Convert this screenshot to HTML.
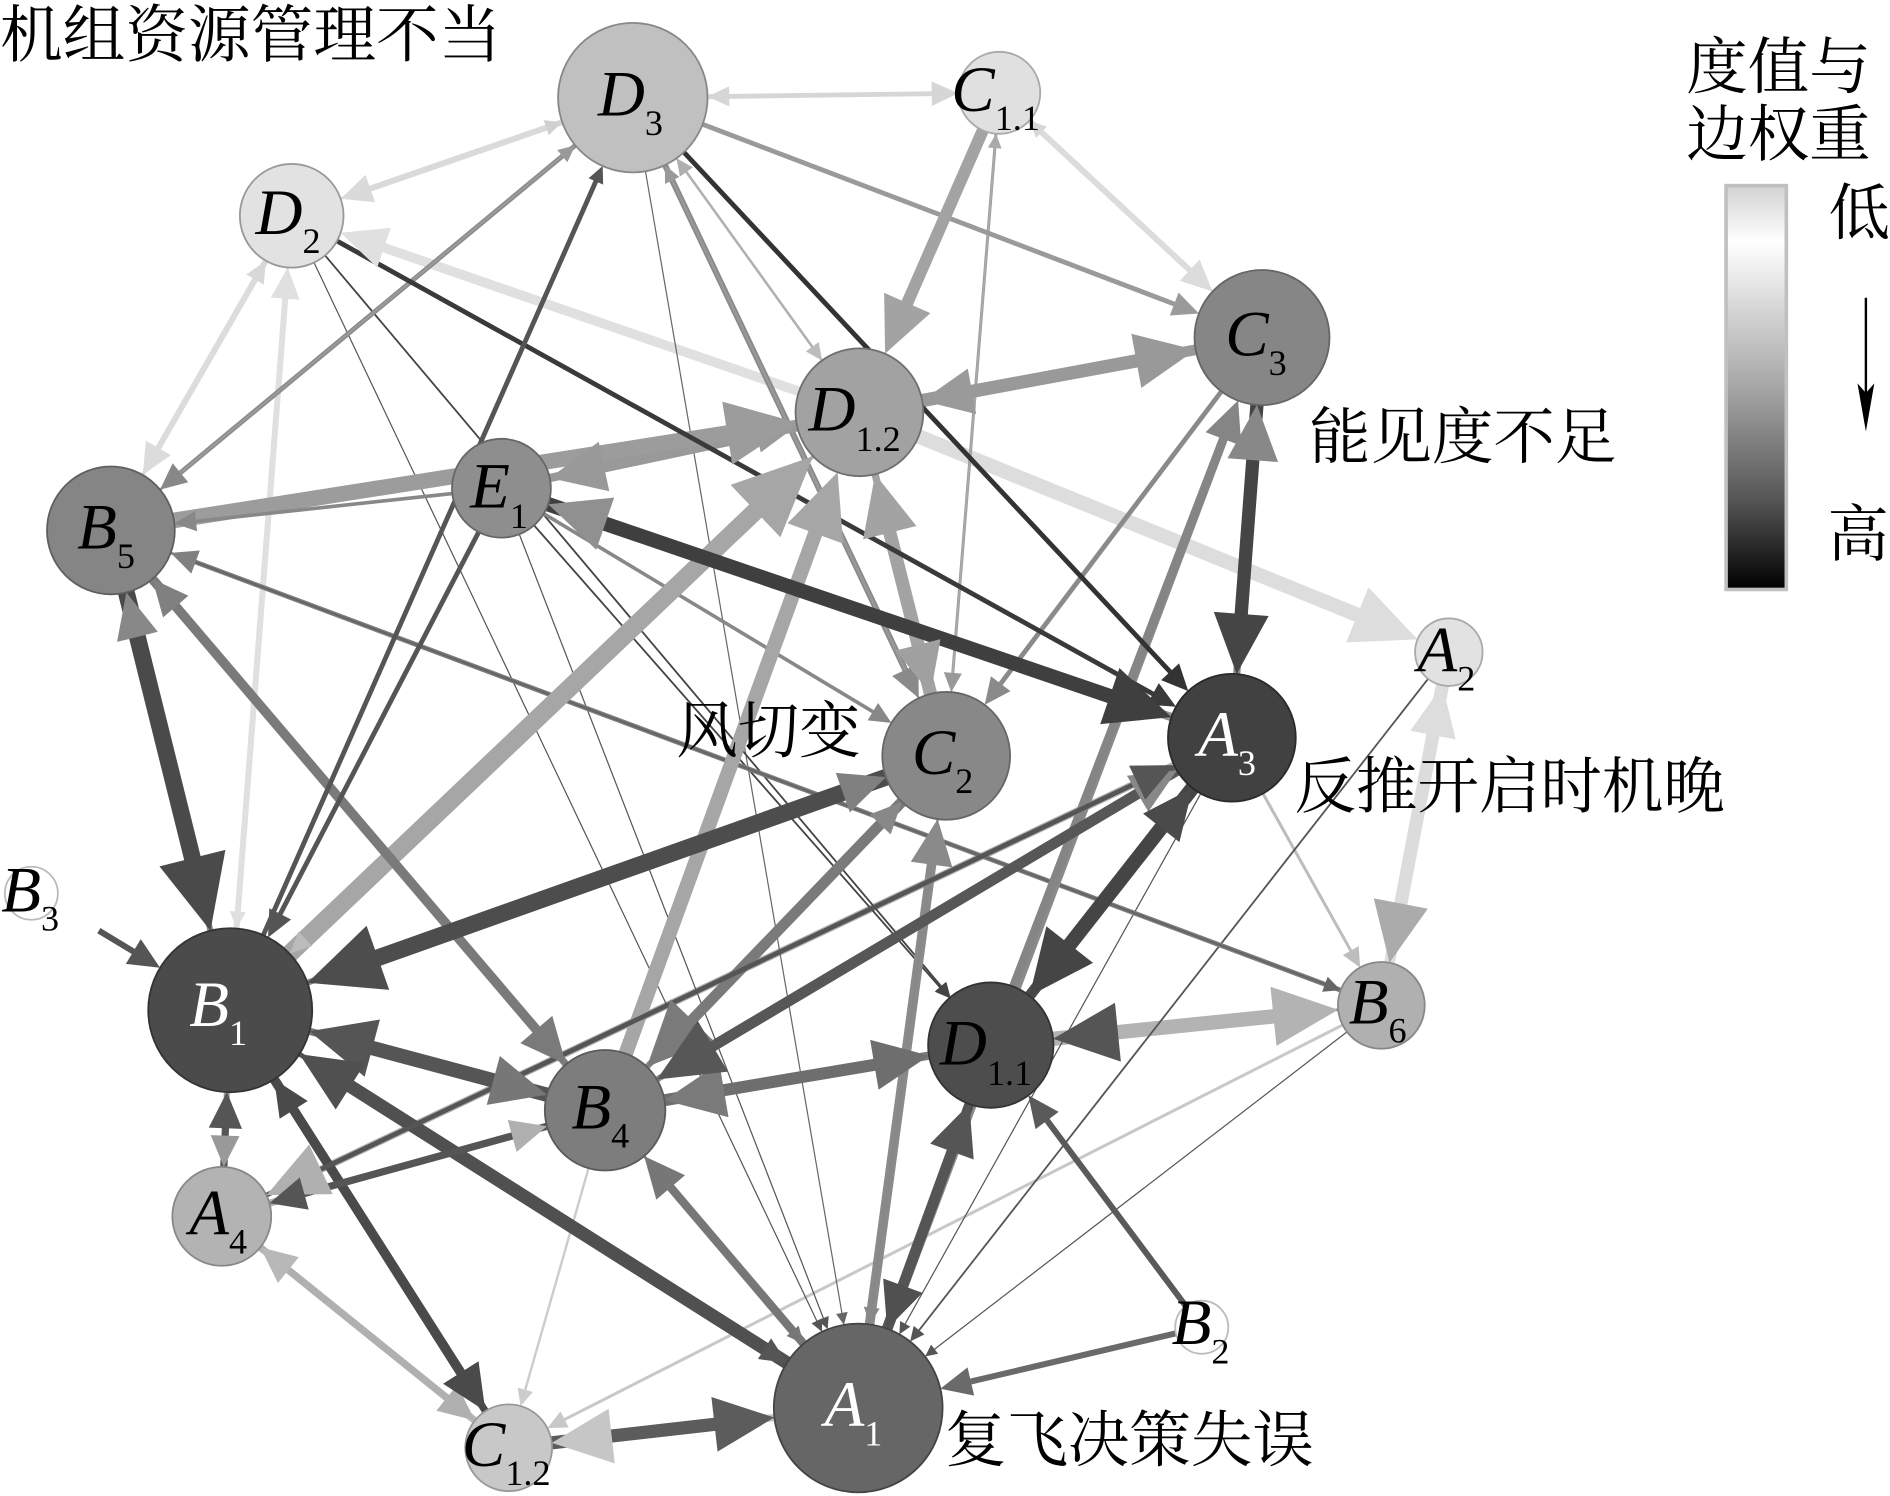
<!DOCTYPE html>
<html>
<head>
<meta charset="utf-8">
<style>
html,body{margin:0;padding:0;background:#fff;}
body{width:1890px;height:1496px;overflow:hidden;}
svg{display:block;}
.cn{font-family:"Liberation Serif","Noto Serif CJK SC","Noto Serif CJK JP","Noto Serif CJK TC","Noto Serif SC","Source Han Serif SC","AR PL UMing CN","Noto Sans CJK SC",serif;fill:#000;}
.lb{font-family:"Liberation Serif",serif;font-style:italic;font-size:54px;}
.sb{font-style:normal;font-size:30px;}
</style>
</head>
<body>
<svg width="1890" height="1496" viewBox="0 0 1568 1241" preserveAspectRatio="none">
<defs>
<linearGradient id="lg" x1="0" y1="0" x2="0" y2="1">
<stop offset="0" stop-color="#d2d2d2"/>
<stop offset="0.14" stop-color="#ffffff"/>
<stop offset="0.5" stop-color="#a6a6a6"/>
<stop offset="0.78" stop-color="#555555"/>
<stop offset="1" stop-color="#000000"/>
</linearGradient>
</defs>
<rect width="1568" height="1241" fill="#fff"/>
<g id="edges"></g>
<g id="heads"></g>
<g id="nodes">
<circle cx="525" cy="81" r="62" fill="#c0c0c0" stroke="#888" stroke-width="1.5"/>
<circle cx="829" cy="77" r="34" fill="#e0e0e0" stroke="#aaa" stroke-width="1.5"/>
<circle cx="242" cy="179" r="43" fill="#e2e2e2" stroke="#999" stroke-width="1.5"/>
<circle cx="1047" cy="280" r="56" fill="#868686" stroke="#666" stroke-width="1.5"/>
<circle cx="713" cy="342" r="53" fill="#a2a2a2" stroke="#6f6f6f" stroke-width="1.5"/>
<circle cx="416" cy="405" r="41" fill="#8e8e8e" stroke="#666" stroke-width="1.5"/>
<circle cx="92" cy="440" r="53" fill="#858585" stroke="#5f5f5f" stroke-width="1.5"/>
<circle cx="1202" cy="541" r="28" fill="#e2e2e2" stroke="#aaa" stroke-width="1.5"/>
<circle cx="785" cy="627" r="53" fill="#888888" stroke="#666" stroke-width="1.5"/>
<circle cx="1022" cy="612" r="53" fill="#414141" stroke="#2a2a2a" stroke-width="1.5"/>
<circle cx="26" cy="741" r="22" fill="#ffffff" stroke="#bbb" stroke-width="1.5"/>
<circle cx="191" cy="838" r="68" fill="#4b4b4b" stroke="#333" stroke-width="1.5"/>
<circle cx="822" cy="867" r="52" fill="#4d4d4d" stroke="#333" stroke-width="1.5"/>
<circle cx="1146" cy="834" r="36" fill="#b0b0b0" stroke="#888" stroke-width="1.5"/>
<circle cx="502" cy="921" r="50" fill="#7d7d7d" stroke="#5a5a5a" stroke-width="1.5"/>
<circle cx="184" cy="1009" r="41" fill="#b3b3b3" stroke="#888" stroke-width="1.5"/>
<circle cx="997" cy="1101" r="22" fill="#ffffff" stroke="#bbb" stroke-width="1.5"/>
<circle cx="422" cy="1201" r="36" fill="#c8c8c8" stroke="#999" stroke-width="1.5"/>
<circle cx="712" cy="1168" r="70" fill="#666666" stroke="#444" stroke-width="1.5"/>
</g>
<g id="labels" class="lb" text-anchor="middle">
<text x="523" y="96">D<tspan class="sb" dy="16">3</tspan></text>
<text x="826" y="92">C<tspan class="sb" dy="16">1.1</tspan></text>
<text x="239" y="194">D<tspan class="sb" dy="16">2</tspan></text>
<text x="1042" y="295">C<tspan class="sb" dy="16">3</tspan></text>
<text x="709" y="357">D<tspan class="sb" dy="17">1.2</tspan></text>
<text x="414" y="421">E<tspan class="sb" dy="17">1</tspan></text>
<text x="88" y="455">B<tspan class="sb" dy="16">5</tspan></text>
<text x="1200" y="557">A<tspan class="sb" dy="16">2</tspan></text>
<text x="782" y="642">C<tspan class="sb" dy="16">2</tspan></text>
<text x="1018" y="627" fill="#fff">A<tspan class="sb" dy="16">3</tspan></text>
<text x="25" y="756">B<tspan class="sb" dy="16">3</tspan></text>
<text x="181" y="851" fill="#fff">B<tspan class="sb" dy="16">1</tspan></text>
<text x="818" y="883">D<tspan class="sb" dy="17">1.1</tspan></text>
<text x="1143" y="849">B<tspan class="sb" dy="16">6</tspan></text>
<text x="498" y="936">B<tspan class="sb" dy="16">4</tspan></text>
<text x="181" y="1024">A<tspan class="sb" dy="16">4</tspan></text>
<text x="996" y="1115">B<tspan class="sb" dy="16">2</tspan></text>
<text x="420" y="1216">C<tspan class="sb" dy="16">1.2</tspan></text>
<text x="708" y="1183" fill="#fff">A<tspan class="sb" dy="16">1</tspan></text>
</g>
<g class="cn">
<text x="0" y="47" font-size="52">机组资源管理不当</text>
<text x="1086" y="380" font-size="51">能见度不足</text>
<text x="561" y="624" font-size="51">风切变</text>
<text x="1074" y="670" font-size="51">反推开启时机晚</text>
<text x="784" y="1212" font-size="51">复飞决策失误</text>
<text x="1399" y="73" font-size="51">度值与</text>
<text x="1399" y="129" font-size="51">边权重</text>
<text x="1517" y="194" font-size="51">低</text>
<text x="1516" y="461" font-size="51">高</text>
</g>
<rect x="1432" y="154" width="50" height="335" fill="url(#lg)" stroke="#c0c0c0" stroke-width="3"/>
<line x1="1548" y1="247" x2="1548" y2="330" stroke="#000" stroke-width="2"/>
<polygon points="1548,358 1541,318 1548,326 1555,318" fill="#000"/>
</svg>
<script>
(function(){
var N={
D3:[525,81,62],C11:[829,77,34],D2:[242,179,43],C3:[1047,280,56],D12:[713,342,53],
E1:[416,405,41],B5:[92,440,53],A2:[1202,541,28],C2:[785,627,53],A3:[1022,612,53],
B3x:[82,772,0],B1:[191,838,68],D11:[822,867,52],B6:[1146,834,36],B4:[502,921,50],
A4:[184,1009,41],B2:[997,1101,22],C12:[422,1201,36],A1:[712,1168,70]
};
var E=[
['D3','C11',4,'#d6d6d6'],['C11','D3',3,'#d6d6d6'],
['D2','D3',2,'#d0d0d0'],['D3','D2',5,'#dadada'],
['C3','C11',2,'#d8d8d8'],['C11','C3',5,'#dcdcdc'],
['B5','D2',3,'#d8d8d8'],['D2','B5',5,'#dcdcdc'],
['D2','B1',2,'#e0e0e0'],['B1','D2',5,'#e0e0e0'],
['D12','D2',8,'#e0e0e0'],
['D12','A2',12,'#dddddd'],
['B6','A2',9,'#dddddd'],['A2','B6',11,'#dcdcdc','#ababab'],
['A3','B6',2.5,'#bdbdbd'],['B6','C12',2.5,'#c8c8c8'],['B4','C12',2,'#cccccc'],
['D3','D12',2,'#bcbcbc'],['D12','D3',2,'#b0b0b0'],['D12','B1',3,'#bbbbbb'],
['A1','C12',6,'#c6c6c6',null,11],
['C12','A4',6,'#b8b8b8'],['A4','C12',6,'#b0b0b0'],
['A4','B4',6,'#b0b0b0'],['A3','A4',6,'#b0b0b0',null,11],
['B6','D11',2,'#555',null,12],
['D11','B6',12,'#b3b3b3'],
['D3','A1',1,'#666'],['D2','A1',1,'#555'],['E1','A1',1,'#555'],
['D2','D11',1.5,'#444'],['E1','D11',1.5,'#444'],
['A2','A1',1.5,'#555'],['B6','A1',1,'#555'],['A3','A1',1,'#555'],
['C11','C2',2.5,'#999'],['C2','C11',1.5,'#aaa'],
['D3','C3',4,'#9a9a9a'],
['D3','B5',4,'#888'],['B5','D3',2,'#999'],
['D3','C2',5,'#8a8a8a'],['C2','D3',2,'#999'],
['E1','C2',3,'#888'],
['B6','B5',4,'#808080'],['B5','B6',2,'#666'],
['C3','C2',4,'#8a8a8a'],
['A1','C3',7,'#8a8a8a'],['D11','C3',7,'#858585'],
['C11','D12',10,'#a3a3a3'],
['C3','D12',9,'#9a9a9a'],['D12','C3',11,'#999999'],
['E1','D12',7,'#9a9a9a'],['D12','E1',10,'#999999'],
['B5','D12',13,'#9c9c9c'],['E1','B5',3,'#888'],
['D12','C2',6,'#a0a0a0',null,9],['C2','D12',11,'#a3a3a3'],
['B4','D12',12,'#a6a6a6'],['B1','D12',15,'#a6a6a6'],
['A1','C2',8,'#8a8a8a'],['C2','A1',2,'#888'],
['B4','B5',6,'#808080'],['B5','B4',8,'#7a7a7a'],['B1','B5',5,'#888',null,8],
['A1','B4',7,'#777'],['B4','A1',2,'#777'],
['B4','C2',5,'#888'],['C2','B4',9,'#7a7a7a',null,12],
['B4','A3',5,'#888',null,8],['A3','C3',6,'#888',null,10],
['D11','B4',7,'#7a7a7a',null,11],['B4','D11',10,'#6e6e6e'],
['B1','C2',5,'#808080',null,8],['B1','B4',6,'#777',null,10],['B1','A4',5,'#999'],
['D2','A3',4,'#3a3a3a'],['D3','A3',4,'#333'],
['E1','B1',4,'#555'],['B1','D3',4,'#555',null,2],
['A3','E1',7,'#909090',null,11],['E1','A3',12,'#3f3f3f'],
['B5','B1',14,'#4a4a4a'],['C2','B1',14,'#4d4d4d'],['B4','B1',12,'#555'],
['B1','A1',4,'#555'],['A1','B1',11,'#505050'],
['C12','B1',6,'#4a4a4a'],['B1','C12',8,'#4a4a4a'],
['A4','B1',6,'#555'],['B3x','B1',5,'#555'],
['A4','A3',4,'#555',null,7],['A3','B4',9,'#575757',null,12],['B4','A4',6,'#555'],
['C12','A1',11,'#5c5c5c'],
['B2','A1',5,'#6a6a6a'],['B2','D11',5,'#5a5a5a'],
['D11','A1',8,'#505050'],['A1','D11',9,'#555'],
['D11','A3',9,'#4a4a4a'],['A3','D11',12,'#454545'],
['C3','A3',11,'#454545']
];
var s='',h='';
function f(v){return Math.round(v*10)/10;}
for(var i=0;i<E.length;i++){
var e=E[i],a=N[e[0]],b=N[e[1]],w=e[2],c=e[3],hc=e[4]||c,hw=e[5]||w;
var dx=b[0]-a[0],dy=b[1]-a[1],d=Math.sqrt(dx*dx+dy*dy),ux=dx/d,uy=dy/d;
var sx=a[0]+ux*a[2],sy=a[1]+uy*a[2];
var tx=b[0]-ux*b[2],ty=b[1]-uy*b[2];
var L=4*hw+6,H=1.8*hw+3;
var bx=tx-ux*L,by=ty-uy*L;
s+='<line x1="'+f(sx)+'" y1="'+f(sy)+'" x2="'+f(bx+ux*2)+'" y2="'+f(by+uy*2)+'" stroke="'+c+'" stroke-width="'+w+'"/>';
h+='<polygon points="'+f(tx)+','+f(ty)+' '+f(bx-uy*H)+','+f(by+ux*H)+' '+f(bx+uy*H)+','+f(by-ux*H)+'" fill="'+hc+'"/>';
}
document.getElementById('edges').innerHTML=s;
document.getElementById('heads').innerHTML=h;
})();
</script>
</body>
</html>
